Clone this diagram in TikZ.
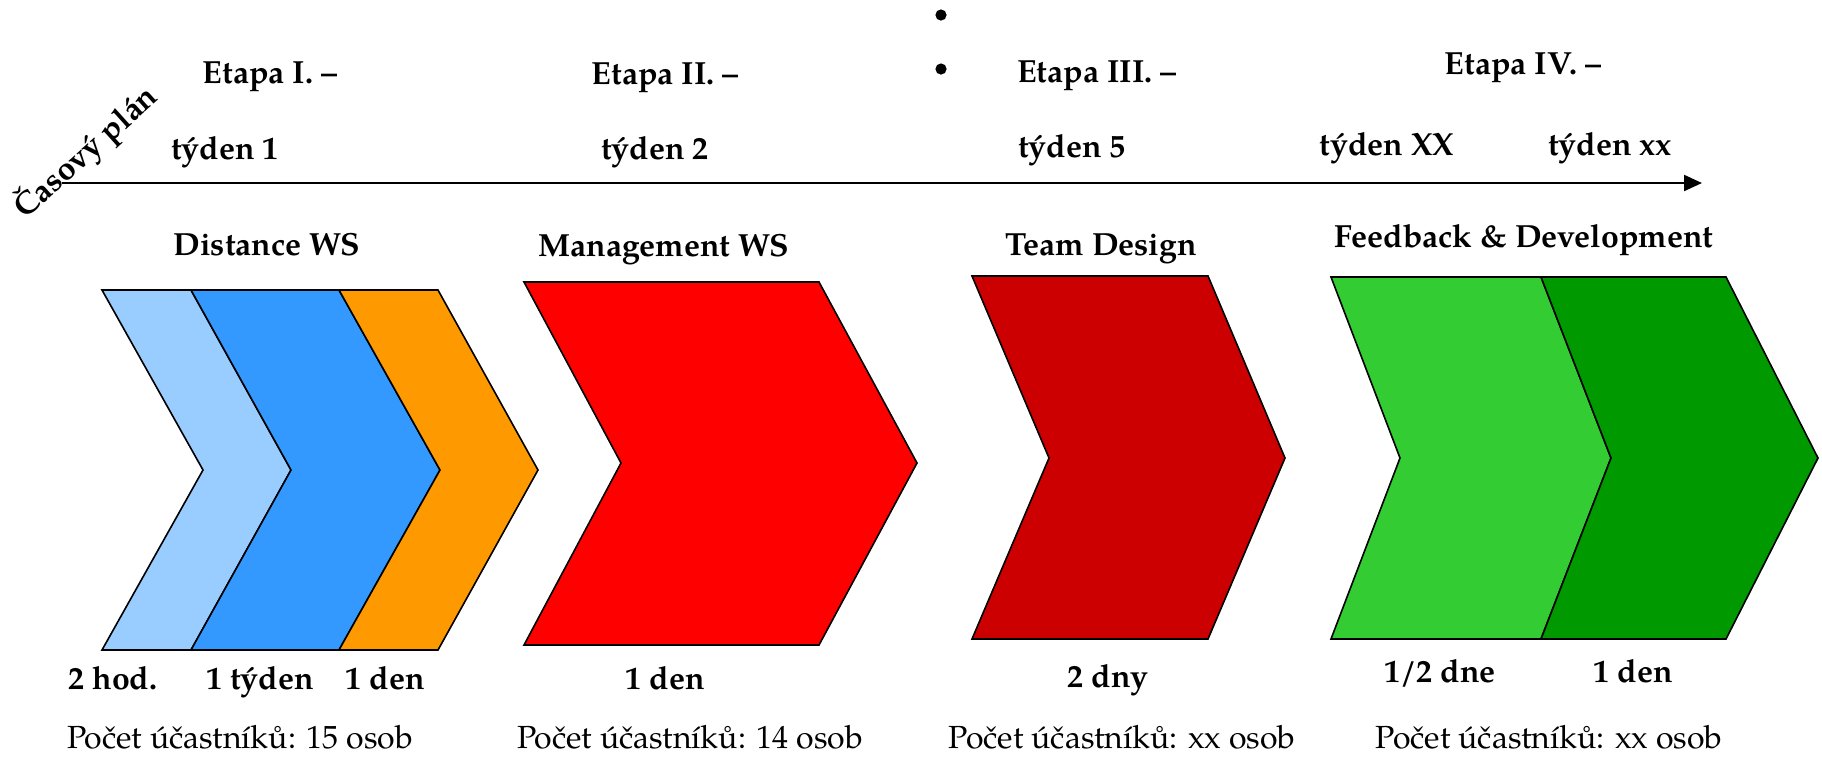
\documentclass[tikz,border=0pt]{standalone}
\usepackage{fontspec}
\setmainfont{texgyrepagella}[Extension=.otf, UprightFont=*-regular, BoldFont=*-bold, ItalicFont=*-italic, BoldItalicFont=*-bolditalic]
\usetikzlibrary{arrows.meta}
\definecolor{cLightBlue}{HTML}{99CCFF}
\definecolor{cBlue}{HTML}{3399FF}
\definecolor{cOrange}{HTML}{FF9900}
\definecolor{cRed}{HTML}{FF0000}
\definecolor{cDarkRed}{HTML}{CC0000}
\definecolor{cLightGreen}{HTML}{33CC33}
\definecolor{cDarkGreen}{HTML}{009900}
\tikzset{
  chev/.style={draw=black, line width=0.8pt, line join=miter},
  lbl/.style={font=\bfseries\fontsize{16}{19}\selectfont, anchor=base, inner sep=0pt},
  dur/.style={font=\bfseries\fontsize{16}{19}\selectfont, anchor=base, inner sep=0pt},
  cnt/.style={font=\fontsize{16}{19}\selectfont, anchor=base, inner sep=0pt},
}
\begin{document}
\begin{tikzpicture}[x=0.5pt, y=-0.5pt]
\useasboundingbox (0,0) rectangle (1822,757);
% time axis
\coordinate (axisA) at (62,183);
\coordinate (axisB) at (1702,183);
\draw[line width=1.1pt, -{Triangle[length=9pt, width=8pt]}] (axisA) -- (axisB);
\node[font=\bfseries\fontsize{16}{19}\selectfont, rotate=42, inner sep=0pt] (plan) at (86,152) {Časový plán};
% bullets
\fill (941,15) circle (2.8pt);
\fill (941,69) circle (2.8pt);
% stage labels
\node[lbl] (e1) at (270,83) {Etapa I. –};
\node[lbl] (e2) at (665,84) {Etapa II. –};
\node[lbl] (e3) at (1097,82) {Etapa III. –};
\node[lbl] (e4) at (1523,74) {Etapa IV. –};
\node[lbl] (t1) at (225,159) {týden 1};
\node[lbl] (t2) at (655,159) {týden 2};
\node[lbl] (t5) at (1072,157) {týden 5};
\node[lbl] (tXX) at (1387,155) {týden XX};
\node[lbl] (txx) at (1610,155) {týden xx};
\node[lbl] (w1) at (267,255) {Distance WS};
\node[lbl] (w2) at (664,256) {Management WS};
\node[lbl] (w3) at (1101,255) {Team Design};
\node[lbl] (w4) at (1524,247) {Feedback \& Development};
% chevrons
\draw[chev, fill=cLightBlue] (102,290) -- (191,290) -- (291,470) -- (191,650) -- (102,650) -- (203,470) -- cycle;
\draw[chev, fill=cBlue] (191,290) -- (339,290) -- (440,470) -- (339,650) -- (191,650) -- (291,470) -- cycle;
\draw[chev, fill=cOrange] (339,290) -- (438,290) -- (538,470) -- (438,650) -- (339,650) -- (440,470) -- cycle;
\draw[chev, fill=cRed] (524,282) -- (819,282) -- (917,463) -- (819,645) -- (524,645) -- (621,463) -- cycle;
\draw[chev, fill=cDarkRed] (972,276) -- (1208,276) -- (1285,458) -- (1208,639) -- (972,639) -- (1049,458) -- cycle;
\draw[chev, fill=cLightGreen] (1331,277) -- (1541,277) -- (1611,458) -- (1541,639) -- (1331,639) -- (1400,458) -- cycle;
\draw[chev, fill=cDarkGreen] (1541,277) -- (1726,277) -- (1818,458) -- (1726,639) -- (1541,639) -- (1611,458) -- cycle;
% durations
\node[dur] (d1) at (113,689) {2 hod.};
\node[dur] (d2) at (260,689) {1 týden};
\node[dur] (d3) at (385,689) {1 den};
\node[dur] (d4) at (665,689) {1 den};
\node[dur] (d5) at (1108,687) {2 dny};
\node[dur] (d6) at (1440,682) {1/2 dne};
\node[dur] (d7) at (1633,682) {1 den};
% participants
\node[cnt] (p1) at (240,748) {Počet účastníků: 15 osob};
\node[cnt] (p2) at (690,748) {Počet účastníků: 14 osob};
\node[cnt] (p3) at (1122,748) {Počet účastníků: xx osob};
\node[cnt] (p4) at (1549,748) {Počet účastníků: xx osob};
\end{tikzpicture}
\end{document}
